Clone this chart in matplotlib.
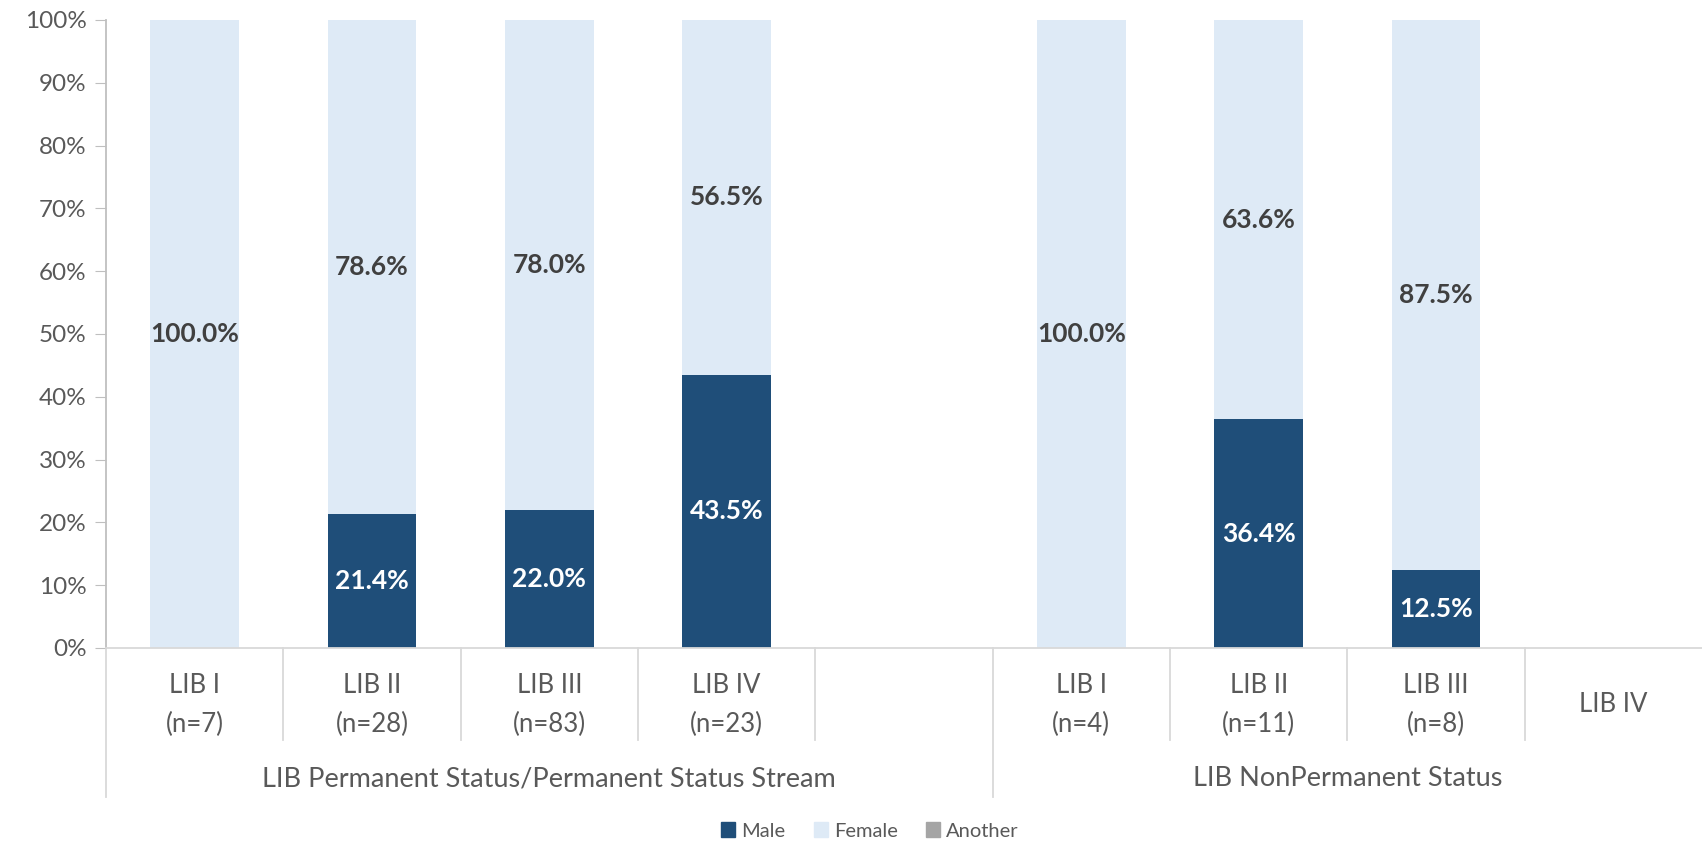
import numpy as np
import matplotlib.pyplot as plt
from matplotlib.patches import Patch

plt.rcParams['font.family'] = ['Lato', 'DejaVu Sans']

# slots: 5 in the first group (last one empty), 4 in the second
cat_labels = ["LIB I\n(n=7)", "LIB II\n(n=28)", "LIB III\n(n=83)", "LIB IV\n(n=23)", "",
              "LIB I\n(n=4)", "LIB II\n(n=11)", "LIB III\n(n=8)", "LIB IV"]
male = [0.0, 21.4, 22.0, 43.5, 0.0, 0.0, 36.4, 12.5, 0.0]
female = [100.0, 78.6, 78.0, 56.5, 0.0, 100.0, 63.6, 87.5, 0.0]
another = [0.0, 0.0, 0.0, 0.0, 0.0, 0.0, 0.0, 0.0, 0.0]
groups = ["LIB Permanent Status/Permanent Status Stream", "LIB NonPermanent Status"]
group_sizes = [5, 4]

c_male = "#1F4E79"
c_female = "#DEEAF6"
c_another = "#A5A5A5"
txt = "#595959"

fig = plt.figure(figsize=(17.02, 8.43), dpi=100)
ax = fig.add_axes([106 / 1702, 1 - 648 / 843, 1 - 106 / 1702, 628 / 843])

x = np.arange(len(cat_labels))
m = np.array(male)
f = np.array(female)
a = np.array(another)
w = 0.5
ax.bar(x, m, w, color=c_male, label="Male")
ax.bar(x, f, w, bottom=m, color=c_female, label="Female")
ax.bar(x, a, w, bottom=m + f, color=c_another, label="Another")

# value labels in the middle of each segment
for i in range(len(x)):
    if m[i] > 0:
        ax.text(x[i], m[i] / 2, f"{m[i]:.1f}%", ha="center", va="center",
                color="white", fontsize=19, fontweight="bold")
    if f[i] > 0:
        ax.text(x[i], m[i] + f[i] / 2, f"{f[i]:.1f}%", ha="center", va="center",
                color="#404040", fontsize=19, fontweight="bold")

ax.set_xlim(-0.5, len(x) - 0.5)
ax.set_ylim(0, 100)
ax.set_yticks(np.arange(0, 101, 10))
ax.set_yticklabels([f"{v}%" for v in range(0, 101, 10)], fontsize=17.5, color=txt)
ax.tick_params(axis="y", length=8, color="#BFBFBF", pad=6)
ax.set_xticks([])

for s in ["top", "right"]:
    ax.spines[s].set_visible(False)
ax.spines["left"].set_color("#BFBFBF")
ax.spines["bottom"].set_color("#D9D9D9")
ax.spines["left"].set_linewidth(1.3)
ax.spines["bottom"].set_linewidth(1.3)

# multi-level category axis underneath
trans = ax.get_xaxis_transform()
short_y = (648 - 740) / 628
long_y = (648 - 797) / 628
bounds = np.cumsum([0] + group_sizes) - 0.5
for b in np.arange(-0.5, len(x) - 0.5):
    y_end = long_y if b in bounds else short_y
    ax.plot([b, b], [0, y_end], transform=trans, color="#D9D9D9", lw=1.3, clip_on=False)

for i, lab in enumerate(cat_labels):
    ax.text(x[i], (648 - 705) / 628, lab, transform=trans, ha="center", va="center",
            fontsize=18.5, color=txt, linespacing=1.7)

for g, name in enumerate(groups):
    mid = (bounds[g] + bounds[g + 1]) / 2
    ax.text(mid, (648 - 779) / 628, name, transform=trans, ha="center", va="center",
            fontsize=19.5, color=txt)

handles = [Patch(color=c_male), Patch(color=c_female), Patch(color=c_another)]
fig.legend(handles, ["Male", "Female", "Another"], loc="center",
           bbox_to_anchor=(870 / 1702, 1 - 831 / 843), ncol=3, frameon=False,
           fontsize=14.5, labelcolor=txt, handlelength=0.7, handleheight=0.7,
           handletextpad=0.3, columnspacing=1.4)

fig.savefig("out.png", dpi=100)
